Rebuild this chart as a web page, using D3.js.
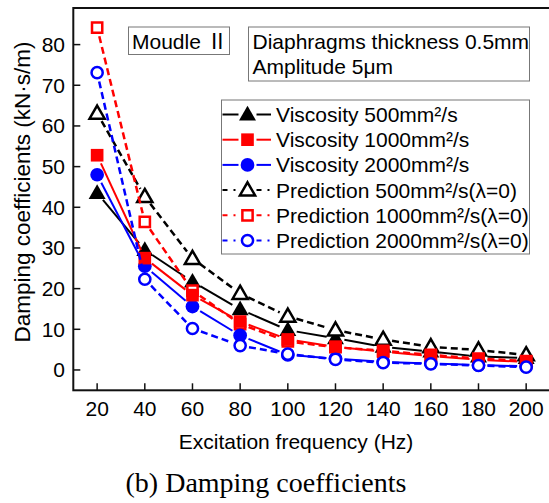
<!DOCTYPE html>
<html>
<head>
<meta charset="utf-8">
<script src="https://cdn.jsdelivr.net/npm/d3@7"></script>
<style>
  html, body { margin: 0; padding: 0; background: #fff; }
  svg { display: block; }
  text { font-family: "Liberation Sans", Arial, sans-serif; fill: #000; }
</style>
</head>
<body>
<svg id="chart" width="549" height="503"></svg>
<script>
// Excitation frequencies (Hz)
const frequencies = [20, 40, 60, 80, 100, 120, 140, 160, 180, 200];

// Damping coefficients (kN·s/m), measured
const visc500  = [43.5, 29.5, 21.7, 14.9, 9.8, 7.8, 5.7, 4.5, 3.3, 2.9];
const visc1000 = [52.8, 27.5, 18.4, 11.9, 7.5, 5.7, 4.5, 3.4, 2.5, 2.0];
const visc2000 = [48.0, 25.5, 15.6, 8.5, 3.7, 2.8, 2.0, 1.6, 1.2, 0.9];

// Damping coefficients (kN·s/m), predicted with λ = 0
const pred500  = [63.1, 42.6, 27.4, 18.8, 13.2, 9.8, 7.5, 5.7, 4.9, 3.7];
const pred1000 = [84.2, 36.4, 19.5, 11.3, 7.0, 5.6, 4.7, 3.7, 2.8, 2.2];
const pred2000 = [73.1, 22.3, 10.2, 6.0, 3.9, 2.6, 1.8, 1.5, 1.1, 0.7];

// Axis ticks
const xTicks = [20, 40, 60, 80, 100, 120, 140, 160, 180, 200];
const yTicks = [0, 10, 20, 30, 40, 50, 60, 70, 80];

// Legend entries in display order
const legendLabels = [
  "Viscosity 500mm²/s",
  "Viscosity 1000mm²/s",
  "Viscosity 2000mm²/s",
  "Prediction 500mm²/s(λ=0)",
  "Prediction 1000mm²/s(λ=0)",
  "Prediction 2000mm²/s(λ=0)"
];

const svg = d3.select("#chart");

const plotL = 73.3, plotR = 550, plotT = 8, plotB = 390.3;
const x = d3.scaleLinear().domain([10, 210]).range([plotL, plotR]);
const y = d3.scaleLinear().domain([-5, 89]).range([plotB, plotT]);

// series styles
const series = [
  { key: "v500",  values: visc500,  color: "#000", dashed: false, shape: d3.symbolTriangle, filled: true,  size: 125, label: legendLabels[0] },
  { key: "v1000", values: visc1000, color: "#f00", dashed: false, shape: d3.symbolSquare,   filled: true,  size: 160, label: legendLabels[1] },
  { key: "v2000", values: visc2000, color: "#00f", dashed: false, shape: d3.symbolCircle,   filled: true,  size: 148, label: legendLabels[2] },
  { key: "p500",  values: pred500,  color: "#000", dashed: true,  shape: d3.symbolTriangle, filled: false, size: 100, label: legendLabels[3] },
  { key: "p1000", values: pred1000, color: "#f00", dashed: true,  shape: d3.symbolSquare,   filled: false, size: 105, label: legendLabels[4] },
  { key: "p2000", values: pred2000, color: "#00f", dashed: true,  shape: d3.symbolCircle,   filled: false, size: 98,  label: legendLabels[5] }
];
const byKey = Object.fromEntries(series.map(s => [s.key, s]));
// draw order (later ones on top)
const drawOrder = ["v500", "p500", "p1000", "v2000", "v1000", "p2000"];

const plot = svg.append("g");

// connecting lines with a small gap around each symbol
const gap = 9;
function drawSeries(s) {
  const g = plot.append("g");
  const pts = frequencies.map((f, i) => [x(f), y(s.values[i])]);
  for (let i = 0; i < pts.length - 1; i++) {
    const [x1, y1] = pts[i], [x2, y2] = pts[i + 1];
    const len = Math.hypot(x2 - x1, y2 - y1);
    if (len <= 2 * gap) continue;
    const ux = (x2 - x1) / len, uy = (y2 - y1) / len;
    g.append("line")
      .attr("x1", x1 + ux * gap).attr("y1", y1 + uy * gap)
      .attr("x2", x2 - ux * gap).attr("y2", y2 - uy * gap)
      .attr("stroke", s.color)
      .attr("stroke-width", s.dashed ? 2.5 : 2)
      .attr("stroke-dasharray", s.dashed ? "7,4" : null);
  }
  const sym = d3.symbol().type(s.shape).size(s.size);
  g.selectAll("path.m").data(pts).join("path")
    .attr("class", "m")
    .attr("transform", d => `translate(${d[0]},${d[1] + (s.shape === d3.symbolTriangle ? 1 : 0)})`)
    .attr("d", sym)
    .attr("fill", s.filled ? s.color : "#fff")
    .attr("stroke", s.color)
    .attr("stroke-width", s.filled ? 0 : 2.5);
}
drawOrder.forEach(k => drawSeries(byKey[k]));

// frame
svg.append("rect")
  .attr("x", plotL).attr("y", plotT)
  .attr("width", plotR - plotL).attr("height", plotB - plotT)
  .attr("fill", "none").attr("stroke", "#111").attr("stroke-width", 2);

// ticks, pointing inward
svg.append("g").selectAll("line").data(xTicks).join("line")
  .attr("x1", d => x(d)).attr("x2", d => x(d))
  .attr("y1", plotB).attr("y2", plotB - 7)
  .attr("stroke", "#111").attr("stroke-width", 1.5);
svg.append("g").selectAll("line").data(yTicks).join("line")
  .attr("y1", d => y(d)).attr("y2", d => y(d))
  .attr("x1", plotL).attr("x2", plotL + 7)
  .attr("stroke", "#111").attr("stroke-width", 1.5);

// tick labels
svg.append("g").selectAll("text").data(xTicks).join("text")
  .attr("x", d => x(d)).attr("y", 416)
  .attr("text-anchor", "middle")
  .attr("font-size", 21)
  .text(d => d);
svg.append("g").selectAll("text").data(yTicks).join("text")
  .attr("x", 65).attr("y", d => y(d) + 7.5)
  .attr("text-anchor", "end")
  .attr("font-size", 21)
  .text(d => d);

// axis titles
svg.append("text")
  .attr("x", 296).attr("y", 449)
  .attr("text-anchor", "middle").attr("font-size", 21)
  .text("Excitation frequency (Hz)");
svg.append("text")
  .attr("transform", "translate(30,192) rotate(-90)")
  .attr("text-anchor", "middle").attr("font-size", 22.5)
  .text("Damping coefficients (kN·s/m)");

// caption
svg.append("text")
  .attr("x", 266).attr("y", 492)
  .attr("text-anchor", "middle")
  .style("font-family", "'Liberation Serif', 'Times New Roman', serif")
  .attr("font-size", 28)
  .text("(b) Damping coefficients");

// annotation boxes
svg.append("rect").attr("x", 128.5).attr("y", 27).attr("width", 101).attr("height", 27.5)
  .attr("fill", "#fff").attr("stroke", "#777").attr("stroke-width", 1);
const moudle = svg.append("text").attr("x", 132).attr("y", 49).attr("font-size", 21);
moudle.append("tspan").text("Moudle ");
moudle.append("tspan")
  .style("font-family", "'Noto Sans CJK SC', 'DejaVu Serif', serif")
  .text("Ⅱ");

svg.append("rect").attr("x", 248.5).attr("y", 27).attr("width", 281).attr("height", 54)
  .attr("fill", "#fff").attr("stroke", "#777").attr("stroke-width", 1);
svg.append("text").attr("x", 252.5).attr("y", 49).attr("font-size", 21).text("Diaphragms thickness 0.5mm");
svg.append("text").attr("x", 252.5).attr("y", 74).attr("font-size", 21).text("Amplitude 5μm");

// legend
const lg = svg.append("g");
lg.append("rect").attr("x", 221.5).attr("y", 100).attr("width", 308).attr("height", 154)
  .attr("fill", "#fff").attr("stroke", "#777").attr("stroke-width", 1);
const rowY = i => 114.5 + i * 25.2;
series.forEach((s, i) => {
  const cy = rowY(i);
  const segs = [[222.5, 238.5], [256.5, 271]];
  segs.forEach(([a, b]) => {
    lg.append("line")
      .attr("x1", a).attr("x2", b).attr("y1", cy).attr("y2", cy)
      .attr("stroke", s.color)
      .attr("stroke-width", 2)
      .attr("stroke-dasharray", s.dashed ? "5,6,2,6" : null);
  });
  lg.append("path")
    .attr("transform", `translate(247.5,${cy + (s.shape === d3.symbolTriangle ? 1 : 0)})`)
    .attr("d", d3.symbol().type(s.shape).size(s.size))
    .attr("fill", s.filled ? s.color : "#fff")
    .attr("stroke", s.color)
    .attr("stroke-width", s.filled ? 0 : 2.5);
  lg.append("text")
    .attr("x", 276).attr("y", cy + 7.5)
    .attr("font-size", 21)
    .text(s.label);
});
</script>
</body>
</html>
